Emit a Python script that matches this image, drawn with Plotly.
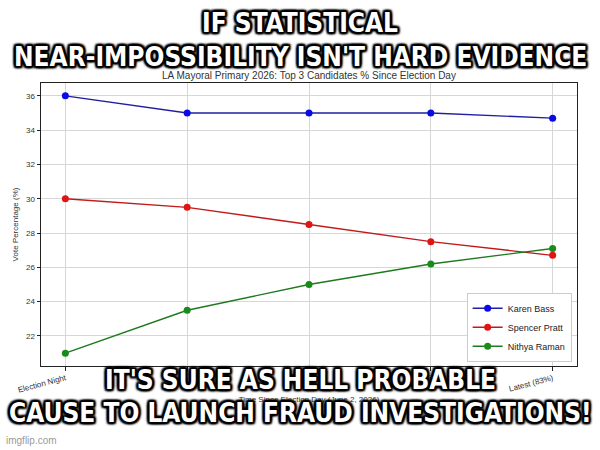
import plotly.graph_objects as go

categories = ["Election Night", "Day 2", "Day 4", "Day 6", "Latest (83%)"]
karen_bass = [36.0, 35.0, 35.0, 35.0, 34.7]
spencer_pratt = [30.0, 29.5, 28.5, 27.5, 26.7]
nithya_raman = [21.0, 23.5, 25.0, 26.2, 27.1]
y_ticks = [22, 24, 26, 28, 30, 32, 34, 36]

top_text = ["IF STATISTICAL", "NEAR-IMPOSSIBILITY ISN'T HARD EVIDENCE"]
bottom_text = ["IT'S SURE AS HELL PROBABLE", "CAUSE TO LAUNCH FRAUD INVESTIGATIONS!"]

series = [
    ("Karen Bass", karen_bass, "#1f1fa0", "#0a0ae6"),
    ("Spencer Pratt", spencer_pratt, "#c01a1a", "#e01414"),
    ("Nithya Raman", nithya_raman, "#1e7a1e", "#1a8a1a"),
]

fig = go.Figure()
for name, vals, lc, mc in series:
    fig.add_trace(go.Scatter(
        x=list(range(len(categories))), y=vals, name=name, mode="lines+markers",
        line=dict(color=lc, width=1.4),
        marker=dict(color=mc, size=7),
    ))

W, H = 600, 450
L, R, T, B = 41, 23, 83, 84
pw, ph = W - L - R, H - T - B

def px(x):
    return (x - L) / pw

def py(y):
    return (H - B - y) / ph

shadow = ("0px 0px 3px #000, 0px 0px 3px #000, 0px 0px 4px #000, 1px 1px 1px #000, "
          "-1px -1px 1px #000, 1px -1px 1px #000, -1px 1px 1px #000, 2px 2px 2px #000, "
          "-2px -2px 2px #000, 2px -2px 2px #000, -2px 2px 2px #000, 2px 0px 2px #000, "
          "-2px 0px 2px #000, 0px 2px 2px #000, 0px -2px 2px #000")
meme_font = dict(family="DejaVu Sans Condensed, sans-serif",
                 size=26, color="white", weight=700, shadow=shadow)

annotations = []
for txt, ypos in zip(top_text + bottom_text, [23, 57, 380, 413]):
    annotations.append(dict(text=txt, x=px(300), y=py(ypos), xref="paper", yref="paper",
                            xanchor="center", yanchor="middle", showarrow=False,
                            font=meme_font))
annotations.append(dict(text="imgflip.com", x=px(4), y=py(440), xref="paper", yref="paper",
                        xanchor="left", yanchor="middle", showarrow=False,
                        font=dict(family="Liberation Sans, Arial, sans-serif", size=10,
                                  color="#9a9a9a")))

axis_common = dict(showline=True, linecolor="#222", linewidth=1, mirror=True,
                   showgrid=True, gridcolor="#d6d6d6", gridwidth=1,
                   ticks="outside", ticklen=3.5, tickcolor="#222", zeroline=False,
                   tickfont=dict(family="Liberation Sans, Arial, sans-serif", size=8, color="#333"))

fig.update_layout(
    width=W, height=H,
    margin=dict(l=L, r=R, t=T, b=B, autoexpand=False),
    paper_bgcolor="white", plot_bgcolor="white",
    title=dict(text="LA Mayoral Primary 2026: Top 3 Candidates % Since Election Day",
               x=px(309), xanchor="center", y=1 - 75 / H, yanchor="middle",
               xref="paper", yref="container",
               font=dict(family="Liberation Sans, Arial, sans-serif", size=10, color="#333")),
    xaxis=dict(**axis_common, range=[-0.2, 4.2], tickvals=list(range(len(categories))),
               ticktext=categories, tickangle=-15,
               title=dict(text="Time Since Election Day (June 2, 2026)", standoff=2,
                          font=dict(family="Liberation Sans, Arial, sans-serif", size=8, color="#333"))),
    yaxis=dict(**axis_common, range=[20.25, 36.75], tickvals=y_ticks,
               title=dict(text="Vote Percentage (%)", standoff=6,
                          font=dict(family="Liberation Sans, Arial, sans-serif", size=8, color="#333"))),
    legend=dict(x=0.99, y=0.015, xanchor="right", yanchor="bottom",
                bgcolor="white", bordercolor="#cccccc", borderwidth=1,
                font=dict(family="Liberation Sans, Arial, sans-serif", size=9, color="#222"),
                tracegroupgap=0, itemwidth=30),
    annotations=annotations,
    showlegend=True,
)

fig.write_html("out.html", config={"displayModeBar": False},
               post_script="document.body.style.margin='0';")
